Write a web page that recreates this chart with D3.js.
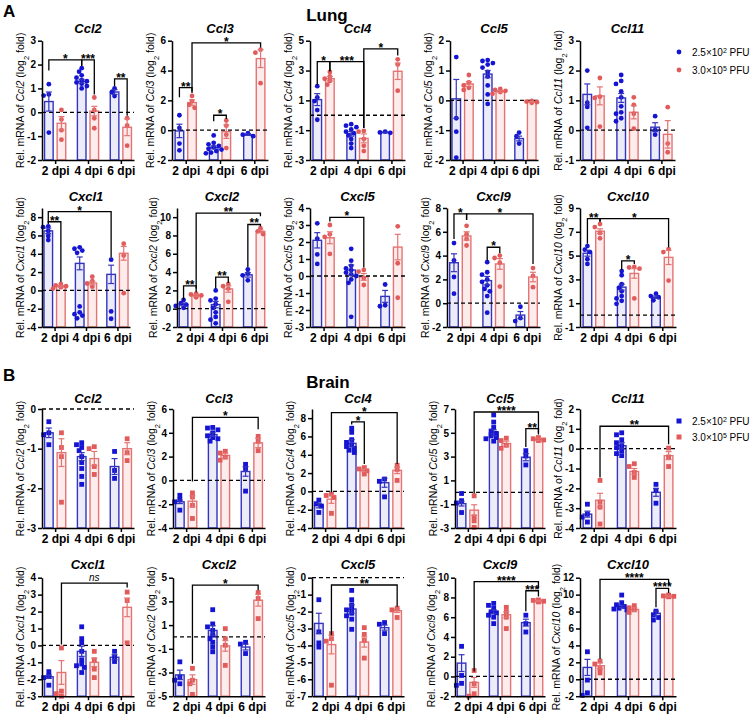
<!DOCTYPE html>
<html lang="en">
<head>
<meta charset="utf-8">
<title>Chemokine mRNA in lung and brain</title>
<style>
  body { margin: 0; background: white; }
  svg text { font-family: "Liberation Sans", Arial, sans-serif; fill: #000; }
</style>
</head>
<body>
<script src="https://cdnjs.cloudflare.com/ajax/libs/d3/7.8.5/d3.min.js"></script>
<script>
// ---- data ----
var dpi = ["2 dpi", "4 dpi", "6 dpi"];
var doses = [["2.5×10", "2", " PFU"], ["3.0×10", "5", " PFU"]];
var genes = ["Ccl2", "Ccl3", "Ccl4", "Ccl5", "Ccl11", "Cxcl1", "Cxcl2", "Cxcl5", "Cxcl9", "Cxcl10"];

var lungDomains = [[-2,3],[-2,6],[-3,5],[-2,2],[-1,3],[-4,9],[-2,11],[-3,4],[-2,8],[-1,9]];
var lungTicks = [[-2,-1,0,1,2,3],[-2,0,2,4,6],[-3,-1,1,3,5],[-2,-1,0,1,2],[-1,0,1,2,3],
  [-4,-2,0,2,4,6,8],[-2,0,2,4,6,8,10],[-3,-2,-1,0,1,2,3,4],[-2,0,2,4,6,8],[-1,1,3,5,7,9]];

var lungMeanLow = [[0.45,1.3,0.85],[-0.05,-1.15,-0.3],[1.05,-1.25,-1.15],[0.05,0.88,-1.28],[1.2,1.08,0.1],
  [6.5,2.95,1.75],[0.45,0.45,3.7],[2.1,0.35,-1.2],[3.4,1.9,-1.0],[5.2,2.35,1.5]];
var lungSemLow = [[0.4,0.08,0.1],[0.45,0.1,0.05],[0.4,0.15,0.03],[0.65,0.12,0.08],[0.35,0.15,0.15],
  [0.3,0.7,1.0],[0.15,0.35,0.25],[0.45,0.3,0.35],[0.75,0.35,0.3],[0.25,0.25,0.1]];
var lungMeanHigh = [[-0.46,0.05,-0.63],[1.85,-0.1,4.8],[2.45,-1.55,2.95],[0.55,0.3,-0.05],[1.15,0.6,-0.14],
  [0.45,0.8,4.05],[1.45,2.15,8.45],[2.25,-0.05,1.7],[5.65,3.3,2.2],[7.05,3.5,4.85]];
var lungSemHigh = [[0.28,0.2,0.35],[0.18,0.45,0.6],[0.15,0.3,0.55],[0.08,0.03,0.01],[0.3,0.22,0.46],
  [0.1,0.2,0.75],[0.1,0.35,0.15],[0.35,0.2,0.75],[0.35,0.45,0.4],[0.2,0.4,0.6]];
var lungPtsLow = [
  [[1.18,0.75,0.7,-0.85],[1.85,1.7,1.55,1.45,1.35,1.3,1.25,1.2,1.1,1.0],[1.0,0.85,0.68]],
  [[1.0,0.15,-0.9,-1.35],[-0.35,-0.85,-0.95,-1.05,-1.15,-1.25,-1.3,-1.4,-1.5,-1.55],[-0.2,-0.3,-0.4]],
  [[1.95,1.2,0.95,0.35,-0.3],[-0.6,-0.7,-0.8,-0.95,-1.1,-1.2,-1.35,-1.6,-1.9,-2.2],[-1.1,-1.15,-1.18]],
  [[1.45,-0.6,-1.05,-1.92],[1.35,1.32,1.25,1.2,1.1,0.95,0.8,0.5,0.2,-0.12],[-1.08,-1.2,-1.45]],
  [[2.0,0.92,0.78,0.08],[1.85,1.65,1.55,1.3,1.1,0.8,0.6,0.55,0.4,0.3],[0.47,0.0,-0.15]],
  [[7.0,6.9,6.5,5.95,5.5],[4.7,4.55,4.35,4.1,-1.75,-2.4,-2.6,-2.75,-3.05],[3.35,-2.3,-3.1]],
  [[0.95,0.6,0.45,0.3,0.1],[2.0,1.1,0.9,0.5,0.1,-0.4,-0.9,-1.2,-1.6],[4.3,3.85,3.65,3.1]],
  [[3.1,2.2,1.27,0.71],[1.6,0.9,0.6,0.45,0.35,0.2,0.1,0.0,-0.2,-0.4,-2.4],[-0.5,-1.72,-1.78]],
  [[5.05,3.6,2.2,0.8],[3.45,2.6,2.4,2.0,1.8,1.5,1.2,1.0,0.6,-0.8],[-0.3,-1.25,-1.5]],
  [[5.8,5.5,5.3,4.7,4.3],[3.7,3.35,2.6,2.3,2.0,1.6,1.4,1.2,0.95],[1.8,1.6,1.5,1.25]]
];
var lungPtsHigh = [
  [[0.1,-0.3,-0.75,-1.15],[0.62,0.1,-0.25,-0.67],[-0.25,-0.55,-1.4]],
  [[2.3,1.95,1.7,1.5],[0.65,0.3,-0.3,-1.2],[5.4,5.2,3.15]],
  [[2.9,2.6,2.45,2.3,2.05],[-1.05,-1.1,-1.6,-2.05,-2.4],[3.75,3.4,1.65]],
  [[0.85,0.6,0.5,0.42,0.35],[0.38,0.35,0.32,0.28,0.22],[-0.02,-0.04,-0.06,-0.08]],
  [[1.75,1.12,1.08,0.12],[1.1,0.85,0.55,0.05],[0.77,-0.45,-0.74]],
  [[0.7,0.55,0.45,0.35,0.2],[1.5,1.0,0.75,0.4],[5.1,3.8,-0.3]],
  [[1.65,1.55,1.45,1.35,1.25],[2.7,2.45,2.2,0.75],[8.8,8.45,8.15]],
  [[3.0,2.45,2.3,1.3],[0.36,0.26,-0.12,-0.53],[2.92,0.75,-1.28]],
  [[6.5,5.8,5.4,4.85],[4.0,3.8,3.4,1.4],[2.95,2.3,1.35]],
  [[7.65,7.4,6.9,6.45],[4.05,4.0,3.9,1.4],[5.55,5.3,2.9]]
];
// [label, group, series, group, series, line y, left leg end, right leg end]
var lungSig = [
  [["*",0,0,1,0,2.2,1.75,1.95],["***",1,0,1,1,2.2,1.95,0.75],["**",2,0,2,1,1.4,1.1,-0.15]],
  [["**",0,0,0,1,2.85,2.2,2.5],["*",1,0,1,1,1.0,0.6,0.75],["*",0,1,2,1,5.85,2.6,5.55]],
  [["*",0,0,0,1,3.6,2.05,2.95],["***",0,1,1,1,3.6,2.95,-0.85],["*",1,1,2,1,4.45,-0.85,4.0]],
  [],
  [],
  [["*",0,0,2,0,8.6,7.4,3.6],["**",0,0,0,1,7.5,7.25,0.95]],
  [["**",0,0,0,1,2.5,0.95,1.8],["**",1,0,1,1,3.45,2.2,2.8],["**",2,0,2,1,9.2,4.55,9.0],["**",0,1,2,1,10.45,2.2,10.1]],
  [["*",0,1,1,1,3.45,3.2,0.5]],
  [["*",0,0,0,1,7.5,5.4,7.0],["*",0,1,2,1,7.5,7.0,3.3],["*",1,0,1,1,4.7,3.6,4.2]],
  [["**",0,0,0,1,8.1,6.0,7.85],["*",0,1,2,1,8.1,7.85,5.7],["*",1,0,1,1,4.55,3.8,4.3]]
];

var brainDomains = [[-3,0],[-4,6],[-4,9],[-3,7],[-4,2],[-3,4],[-5,5],[-7,0],[-2,10],[-2,12]];
var brainTicks = [[-3,-2,-1,0],[-4,-2,0,2,4,6],[-4,-2,0,2,4,6,8],[-3,-1,1,3,5,7],[-4,-3,-2,-1,0,1,2],
  [-3,-2,-1,0,1,2,3,4],[-5,-3,-1,1,3,5],[-7,-6,-5,-4,-3,-2,-1,0],[-2,0,2,4,6,8,10],[-2,0,2,4,6,8,10,12]];

var brainMeanLow = [[-0.6,-1.2,-1.45],[-1.8,3.85,0.75],[-1.55,5.25,0.95],[-0.95,5.0,2.95],[-3.3,0.15,-2.2],
  [-1.85,-0.35,-0.7],[-3.2,0.55,-0.85],[-2.7,-1.85,-2.95],[1.35,6.55,5.45],[1.4,8.6,7.8]];
var brainSemLow = [[0.12,0.1,0.2],[0.15,0.15,0.4],[0.25,0.4,0.5],[0.2,0.25,0.3],[0.15,0.15,0.2],
  [0.1,0.3,0.15],[0.4,0.4,0.25],[0.6,0.25,0.15],[0.85,0.2,0.35],[0.95,0.15,0.25]];
var brainMeanHigh = [[-1.1,-1.25,-1.0],[-1.75,2.1,3.15],[-0.85,2.3,2.3],[-1.5,4.1,4.45],[-2.6,-1.15,-0.35],
  [-1.6,-1.0,2.25],[-3.6,-0.75,3.1],[-3.95,-3.8,-1.95],[-0.6,6.25,7.65],[1.6,8.25,9.8]];
var brainSemHigh = [[0.35,0.18,0.15],[0.45,0.2,0.4],[0.45,0.15,0.35],[0.45,0.2,0.1],[0.35,0.15,0.2],
  [0.7,0.25,0.55],[0.4,0.45,0.5],[0.55,0.3,0.1],[0.5,0.3,0.05],[0.35,0.2,0.05]];
var brainPtsLow = [
  [[-0.32,-0.6,-0.65,-0.9],[-0.85,-0.9,-0.97,-1.05,-1.2,-1.35,-1.5,-1.7,-1.9],[-1.07,-1.55,-1.75]],
  [[-1.25,-1.6,-1.8,-2.5],[4.45,4.4,4.25,4.0,3.75,3.6,3.5,3.3],[1.35,1.0,-0.9]],
  [[-0.95,-1.35,-1.6,-2.3],[6.9,6.45,5.65,5.35,5.1,4.9,4.7,4.5,4.25],[1.35,1.1,-0.6]],
  [[-0.1,-0.7,-0.9,-1.7],[6.5,5.9,5.45,5.15,4.95,4.75,4.6,4.5,4.3],[3.5,3.05,2.3]],
  [[-2.8,-3.3,-3.45,-3.7],[0.8,0.7,0.45,0.3,0.15,0.05,-0.1,-0.25,-0.35],[-1.8,-2.1,-2.75]],
  [[-1.55,-1.8,-1.9,-2.35],[1.1,0.4,0.15,-0.35,-0.85,-1.1,-1.2,-1.3,-1.6],[-0.35,-0.7,-0.95]],
  [[-2.1,-3.4,-3.65,-3.95],[2.3,1.1,0.85,0.55,0.15,-0.15,-0.45,-0.85,-1.25],[-0.45,-0.6,-1.4]],
  [[-1.3,-3.2,-3.85,-4.1],[-0.75,-1.3,-1.6,-1.85,-1.9,-2.1,-2.25,-2.45,-3.05],[-2.65,-2.75,-3.3]],
  [[3.05,0.1,-0.7,-0.9],[7.4,7.2,6.9,6.55,6.45,6.2,6.0,5.35],[6.2,5.35,4.5]],
  [[3.25,-0.1,-1.6,-1.9],[9.95,9.05,8.8,8.6,8.4,8.3,8.2],[8.05,7.6,7.3,7.0]]
];
var brainPtsHigh = [
  [[-0.6,-0.97,-1.2,-2.35],[-0.95,-1.0,-1.45,-1.65],[-0.75,-1.1,-1.3]],
  [[-1.05,-1.4,-2.1,-3.2],[2.45,2.3,1.95,1.7],[3.7,3.3,2.5]],
  [[-0.3,-0.45,-0.65,-2.4],[2.6,2.45,2.25,1.9],[2.85,2.4,1.2]],
  [[-0.3,-2.05,-2.4,-2.95],[4.55,4.35,3.95,3.7],[4.6,4.5,4.4,4.35]],
  [[-1.6,-2.7,-2.95,-3.8],[-0.76,-0.9,-1.2,-1.45],[0.03,-0.42,-0.9]],
  [[-0.15,-2.7,-2.85,-3.0],[-0.35,-0.85,-1.4,-1.9],[3.15,2.65,0.15]],
  [[-2.65,-3.65,-3.95,-4.85],[0.7,-0.15,-0.7,-2.4],[3.75,3.25,1.55]],
  [[-3.3,-3.6,-3.75,-6.35],[-2.95,-3.35,-3.7,-4.75],[-1.8,-1.9,-2.35]],
  [[0.6,-0.75,-1.75,-2.0],[7.0,6.55,6.0,4.85],[7.75,7.7,7.62,7.55]],
  [[2.15,1.8,1.25,0.75],[8.7,8.45,8.2,7.9],[9.95,9.85,9.8,9.75]]
];
var brainSig = [
  [],
  [["*",0,1,2,1,5.3,-0.1,4.3]],
  [["*",0,1,2,1,8.6,-0.1,3.0],["*",1,0,1,1,7.6,7.3,3.0]],
  [["****",0,1,2,1,6.75,-0.1,5.0],["**",2,0,2,1,5.35,3.8,4.85]],
  [["**",0,1,2,1,1.13,-1.45,0.22]],
  [["ns",0,1,2,1,3.68,0.05,3.42]],
  [["*",0,1,2,1,4.38,-2.26,3.95]],
  [["**",0,1,2,1,-0.43,-3.4,-1.7]],
  [["****",0,1,2,1,9.6,0.5,8.9],["***",2,0,2,1,8.68,6.6,8.1]],
  [["****",0,1,2,1,11.8,2.4,11.1],["****",2,0,2,1,10.75,8.5,10.2]]
];

// ---- layout ----
var rowTop = [40.7, 208, 409, 577.7];
var rowH = [119.3, 119, 119, 118.5];
var titleOff = [-7.5, -7.5, -6.5, -9];
var colX = [[42,172,310,450,580],[42,177,310,447,580],[42,173,312,455,580],[42,173,312,455,580]];
var colW = [[92,96,95,88,95],[88,90,95,93,96],[92,92,92,90,96],[92,92,92,90,96]];

var lineCol = ["#3434bf", "#e47474"];
var fillCol = ["#ececf9", "#fcecec"];
var dotCol = ["#1414d2", "#e25b5b"];

var svg = d3.select("body").append("svg")
  .attr("width", 750).attr("height", 714);

// spread overlapping points sideways, like the scatter in the original
function swarm(vals, y, cx) {
  var placed = [];
  vals.map(function(v) { return {v: v, py: y(v)}; })
    .sort(function(a, b) { return a.py - b.py; })
    .forEach(function(p) {
      var cands = [0, -2.6, 2.6, -5.2, 5.2, -7.8, 7.8];
      for (var i = 0; i < cands.length; i++) {
        var px = cx + cands[i];
        var ok = placed.every(function(q) {
          return (q.px - px) * (q.px - px) + (q.py - p.py) * (q.py - p.py) >= 16;
        });
        if (ok) { p.px = px; break; }
      }
      if (p.px === undefined) p.px = cx;
      placed.push(p);
    });
  return placed;
}

function drawPanel(row, col, idx, tissue) {
  var L = tissue === "lung";
  var domain = (L ? lungDomains : brainDomains)[idx];
  var ticks = (L ? lungTicks : brainTicks)[idx];
  var means = [(L ? lungMeanLow : brainMeanLow)[idx], (L ? lungMeanHigh : brainMeanHigh)[idx]];
  var sems = [(L ? lungSemLow : brainSemLow)[idx], (L ? lungSemHigh : brainSemHigh)[idx]];
  var pts = [(L ? lungPtsLow : brainPtsLow)[idx], (L ? lungPtsHigh : brainPtsHigh)[idx]];
  var sig = (L ? lungSig : brainSig)[idx];

  var w = colW[row][col], h = rowH[row];
  var g = svg.append("g")
    .attr("transform", "translate(" + colX[row][col] + "," + rowTop[row] + ")");

  var y = d3.scaleLinear().domain(domain).range([h, 0]);
  var x = d3.scalePoint().domain(dpi).range([0, w]).padding(0.4);
  var off = [-6.3, 6.3], bw = 8.6;

  var cells = [];
  for (var s = 0; s < 2; s++) {
    for (var gi = 0; gi < 3; gi++) {
      cells.push({s: s, gi: gi, cx: x(dpi[gi]) + off[s], mean: means[s][gi], sem: sems[s][gi], pts: pts[s][gi]});
    }
  }

  // bars (from the bottom of the axis, as Prism draws them)
  g.selectAll(".bar").data(cells).enter().append("rect")
    .attr("class", "bar")
    .attr("x", function(d) { return d.cx - bw / 2; })
    .attr("width", bw)
    .attr("y", function(d) { return y(d.mean); })
    .attr("height", function(d) { return h - y(d.mean); })
    .attr("fill", function(d) { return fillCol[d.s]; })
    .attr("stroke", function(d) { return lineCol[d.s]; })
    .attr("stroke-width", 1.4);

  // zero line
  g.append("line")
    .attr("x1", 0).attr("x2", w)
    .attr("y1", y(0)).attr("y2", y(0))
    .attr("stroke", "#000").attr("stroke-width", 1.3)
    .attr("stroke-dasharray", "4,3");

  // points
  cells.forEach(function(d) {
    var sp = swarm(d.pts, y, d.cx);
    if (L) {
      g.selectAll(null).data(sp).enter().append("circle")
        .attr("cx", function(p) { return p.px; })
        .attr("cy", function(p) { return p.py; })
        .attr("r", 2.4)
        .attr("fill", dotCol[d.s]);
    } else {
      g.selectAll(null).data(sp).enter().append("rect")
        .attr("x", function(p) { return p.px - 2.4; })
        .attr("y", function(p) { return p.py - 2.4; })
        .attr("width", 4.8).attr("height", 4.8)
        .attr("fill", dotCol[d.s]);
    }
  });

  // error bars (mean ± SEM)
  var eb = g.selectAll(".err").data(cells).enter().append("g").attr("class", "err")
    .attr("stroke", function(d) { return lineCol[d.s]; })
    .attr("stroke-width", 1.2);
  eb.append("line")
    .attr("x1", function(d) { return d.cx; }).attr("x2", function(d) { return d.cx; })
    .attr("y1", function(d) { return y(d.mean - d.sem); })
    .attr("y2", function(d) { return y(d.mean + d.sem); });
  [-1, 1].forEach(function(sgn) {
    eb.append("line")
      .attr("x1", function(d) { return d.cx - 3; }).attr("x2", function(d) { return d.cx + 3; })
      .attr("y1", function(d) { return y(d.mean + sgn * d.sem); })
      .attr("y2", function(d) { return y(d.mean + sgn * d.sem); });
  });

  // axes
  var yAx = g.append("g").attr("class", "axis")
    .call(d3.axisLeft(y).tickValues(ticks).tickSize(4).tickSizeOuter(0).tickPadding(2));
  var xAx = g.append("g").attr("class", "axis")
    .attr("transform", "translate(0," + h + ")")
    .call(d3.axisBottom(x).tickSize(4).tickSizeOuter(0).tickPadding(2));
  g.selectAll(".axis path, .axis line").attr("stroke", "#000").attr("stroke-width", 1.5);
  yAx.selectAll("text").attr("font-size", 10).attr("font-weight", "bold")
    .attr("font-family", "Liberation Sans, Arial, sans-serif")
    .text(function(d) { return d < 0 ? "-" + Math.abs(d) : d; });
  xAx.selectAll("text").attr("font-size", 12).attr("font-weight", "bold")
    .attr("font-family", "Liberation Sans, Arial, sans-serif");

  // y label
  var bb = yAx.node().getBBox();
  var lab = g.append("text")
    .attr("transform", "translate(" + (bb.x - 7) + "," + (h / 2) + ") rotate(-90)")
    .attr("text-anchor", "middle").attr("dy", "0.35em")
    .attr("font-size", 10.5);
  lab.append("tspan").text("Rel. mRNA of ");
  lab.append("tspan").attr("font-style", "italic").text(genes[idx]);
  lab.append("tspan").text(" (log");
  lab.append("tspan").attr("font-size", 7.5).attr("baseline-shift", "sub").text("2");
  lab.append("tspan").text(" fold)");

  // title
  g.append("text")
    .attr("x", w / 2).attr("y", titleOff[row])
    .attr("text-anchor", "middle")
    .attr("font-size", 13).attr("font-weight", "bold").attr("font-style", "italic")
    .text(genes[idx]);

  // significance brackets
  sig.forEach(function(b) {
    var xa = x(dpi[b[1]]) + off[b[2]], xb = x(dpi[b[3]]) + off[b[4]];
    var yl = y(b[5]);
    g.append("path")
      .attr("d", "M" + xa + "," + y(b[6]) + "V" + yl + "H" + xb + "V" + y(b[7]))
      .attr("fill", "none").attr("stroke", "#000").attr("stroke-width", 1.3);
    var ns = b[0] === "ns";
    g.append("text")
      .attr("x", (xa + xb) / 2).attr("y", ns ? yl - 2 : yl + 3)
      .attr("text-anchor", "middle")
      .attr("font-size", ns ? 10 : 12)
      .attr("font-weight", ns ? "normal" : "bold")
      .attr("font-style", ns ? "italic" : "normal")
      .text(b[0]);
  });
}

for (var i = 0; i < 10; i++) {
  drawPanel(Math.floor(i / 5), i % 5, i, "lung");
  drawPanel(2 + Math.floor(i / 5), i % 5, i, "brain");
}

// section headings
function heading(x, y, t, anchor) {
  svg.append("text").attr("x", x).attr("y", y)
    .attr("text-anchor", anchor)
    .attr("font-size", 17).attr("font-weight", "bold").text(t);
}
heading(3, 17, "A", "start");
heading(327, 21, "Lung", "middle");
heading(3, 381, "B", "start");
heading(328, 388, "Brain", "middle");

// legends
function legend(top, square) {
  doses.forEach(function(d, i) {
    var yy = top + i * (square ? 16 : 18);
    if (square) {
      svg.append("rect").attr("x", 676.5).attr("y", yy - 2.5).attr("width", 5).attr("height", 5)
        .attr("fill", dotCol[i]);
    } else {
      svg.append("circle").attr("cx", 679).attr("cy", yy).attr("r", 2.4).attr("fill", dotCol[i]);
    }
    var t = svg.append("text").attr("x", 692).attr("y", yy + 3.5).attr("font-size", 10);
    t.append("tspan").text(d[0]);
    t.append("tspan").attr("font-size", 7).attr("baseline-shift", "super").text(d[1]);
    t.append("tspan").text(d[2]);
  });
}
legend(52, false);
legend(421, true);
</script>
</body>
</html>
